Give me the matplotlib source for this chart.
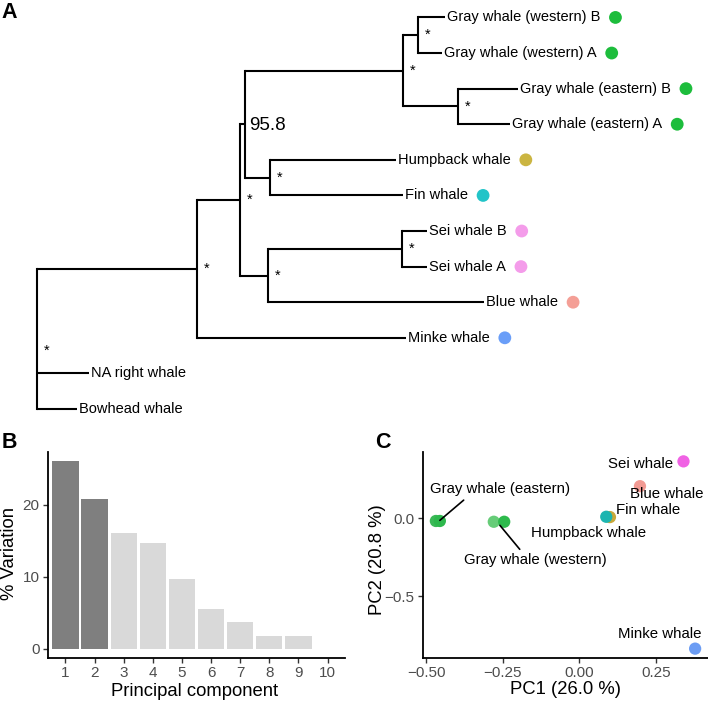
import matplotlib
matplotlib.use("Agg")
import matplotlib.pyplot as plt
import numpy as np

plt.rcParams['font.family'] = ['Liberation Sans', 'DejaVu Sans']

# ---------------- Data ----------------
# Tree (panel A): node, parent, branch length
node_names = ["root", "Bowhead whale", "NA right whale", "N1", "Minke whale", "N2",
              "SB", "Blue whale", "Sei", "Sei whale A", "Sei whale B",
              "N95", "HF", "Fin whale", "Humpback whale", "Gray", "East",
              "Gray whale (eastern) A", "Gray whale (eastern) B", "West",
              "Gray whale (western) A", "Gray whale (western) B"]
node_parent = [None, "root", "root", "root", "N1", "N1",
               "N2", "SB", "SB", "Sei", "Sei",
               "N2", "N95", "HF", "HF", "N95", "Gray",
               "East", "East", "Gray",
               "West", "West"]
branch_len = [0.0, 0.40, 0.52, 1.60, 2.09, 0.43,
              0.28, 2.16, 1.34, 0.25, 0.25,
              0.05, 0.25, 1.33, 1.26, 1.58, 0.55,
              0.52, 0.60, 0.15,
              0.24, 0.27]
# tip order from bottom to top
tip_order = ["Bowhead whale", "NA right whale", "Minke whale", "Blue whale",
             "Sei whale A", "Sei whale B", "Fin whale", "Humpback whale",
             "Gray whale (eastern) A", "Gray whale (eastern) B",
             "Gray whale (western) A", "Gray whale (western) B"]
node_support = {"root": "*", "N1": "*", "N2": "*", "SB": "*", "Sei": "*",
                "HF": "*", "Gray": "*", "East": "*", "West": "*", "N95": "95.8"}
tip_colors = {"Gray whale (western) B": "#1DBD3C", "Gray whale (western) A": "#1DBD3C",
              "Gray whale (eastern) B": "#1DBD3C", "Gray whale (eastern) A": "#1DBD3C",
              "Humpback whale": "#CBB541", "Fin whale": "#22C4C8",
              "Sei whale B": "#F49CEA", "Sei whale A": "#F49CEA",
              "Blue whale": "#F49F96", "Minke whale": "#6A9EF8"}

# Panel B: scree
pc_index = list(range(1, 11))
pc_variation = [26.0, 20.8, 16.1, 14.7, 9.6, 5.5, 3.7, 1.8, 1.8, 0.0]

# Panel C: PCA
pca_names = ["Gray whale (eastern) A", "Gray whale (eastern) B",
             "Gray whale (western) A", "Gray whale (western) B",
             "Humpback whale", "Fin whale", "Blue whale", "Sei whale", "Minke whale"]
pca_pc1 = [-0.468, -0.455, -0.279, -0.245, 0.100, 0.088, 0.198, 0.340, 0.378]
pca_pc2 = [-0.017, -0.017, -0.022, -0.022, 0.008, 0.010, 0.206, 0.365, -0.835]
pca_colors = ["#3BB957", "#2DB84C", "#66CC78", "#2DBA4C", "#C9A838", "#1DB5B0",
              "#F29A93", "#F062E4", "#6C9DF4"]
pca_labels = ["Gray whale (eastern)", "Gray whale (western)", "Humpback whale",
              "Fin whale", "Blue whale", "Sei whale", "Minke whale"]
label_pos = [(-0.258, 0.185), (-0.142, -0.268), (0.031, -0.092),
             (0.223, 0.051), (0.286, 0.159), (0.200, 0.348), (0.264, -0.740)]
# segment end (near the point) and start position on the label box (fractions)
label_anchor = [(-0.455, -0.013), (-0.259, -0.045), None, None, None, None, None]
label_relpos = [(0.27, 0.0), (0.41, 1.0), None, None, None, None, None]

# ---------------- Figure ----------------
W, H = 708, 704
fig = plt.figure(figsize=(W / 100, H / 100), dpi=100)

def px_axes(x0, y0, x1, y1):
    return fig.add_axes([x0 / W, 1 - y1 / H, (x1 - x0) / W, (y1 - y0) / H])

# ---------- Panel A: tree ----------
axA = px_axes(0, 0, 708, 430)
axA.set_xlim(-0.37, 6.71)
axA.set_ylim(0.41, 12.49)
axA.axis('off')

parent_of = dict(zip(node_names, node_parent))
bl_of = dict(zip(node_names, branch_len))
children = {n: [] for n in node_names}
for n, p in zip(node_names, node_parent):
    if p is not None:
        children[p].append(n)

xpos = {}
def set_x(n, base):
    xpos[n] = base + bl_of[n]
    for c in children[n]:
        set_x(c, xpos[n])
set_x("root", 0.0)

ypos = {t: i + 1 for i, t in enumerate(tip_order)}
def set_y(n):
    if n in ypos:
        return ypos[n]
    ys = [set_y(c) for c in children[n]]
    ypos[n] = float(np.mean(ys))
    return ypos[n]
set_y("root")

lw = 1.5
for n in node_names:
    p = parent_of[n]
    if p is not None:
        axA.plot([xpos[p], xpos[n]], [ypos[n], ypos[n]], color='black', lw=lw,
                 solid_capstyle='butt')
    if children[n]:
        cy = [ypos[c] for c in children[n]]
        axA.plot([xpos[n], xpos[n]], [min(cy), max(cy)], color='black', lw=lw,
                 solid_capstyle='projecting')

for n, lab in node_support.items():
    if lab == "*":
        axA.annotate(lab, (xpos[n], ypos[n]), xytext=(5, 0), textcoords='offset points',
                     fontsize=10.5, va='center', ha='left')
    else:
        axA.annotate(lab, (xpos[n], ypos[n]), xytext=(3.2, -1), textcoords='offset points',
                     fontsize=13.5, va='center', ha='left')

tip_texts = []
for t in tip_order:
    txt = axA.annotate(t, (xpos[t], ypos[t]), xytext=(1.5, 0), textcoords='offset points',
                       fontsize=10.5, va='center', ha='left')
    tip_texts.append((t, txt))

fig.canvas.draw()
renderer = fig.canvas.get_renderer()
inv = axA.transData.inverted()
for t, txt in tip_texts:
    if t in tip_colors:
        bb = txt.get_window_extent(renderer)
        xd, _ = inv.transform((bb.x1 + 15, bb.y0))
        axA.scatter([xd], [ypos[t]], s=85, color=tip_colors[t], edgecolors='none', zorder=3)

# panel letters
fig.text(1 / W, 1 - 13 / H, "A", fontsize=15.5, fontweight='bold', va='center', ha='left')
fig.text(2 / W, 1 - 443 / H, "B", fontsize=15.5, fontweight='bold', va='center', ha='left')
fig.text(375 / W, 1 - 443 / H, "C", fontsize=15.5, fontweight='bold', va='center', ha='left')

def classic(ax):
    for s in ['top', 'right']:
        ax.spines[s].set_visible(False)
    for s in ['left', 'bottom']:
        ax.spines[s].set_linewidth(1.3)
        ax.spines[s].set_color('black')
    ax.tick_params(axis='both', colors='#333333', labelcolor='#4D4D4D',
                   labelsize=11, length=3.5, width=1.0, pad=2.5)

# ---------- Panel B: scree ----------
axB = px_axes(48, 452, 345, 658)
bar_colors = ['#7F7F7F' if i <= 2 else '#D9D9D9' for i in pc_index]
axB.bar(pc_index, pc_variation, width=0.9, color=bar_colors, edgecolor='none')
axB.set_xlim(0.4, 10.6)
axB.set_ylim(-1.3, 27.3)
axB.set_xticks(pc_index)
axB.set_yticks([0, 10, 20])
classic(axB)
axB.set_xlabel("Principal component", fontsize=13.3, va='center')
axB.set_ylabel("% Variation", fontsize=13.3, va='center')
axB.xaxis.set_label_coords((195 - 48) / 297, (658 - 692) / 206)
axB.yaxis.set_label_coords((10 - 48) / 297, (658 - 554) / 206)

# ---------- Panel C: PCA ----------
axC = px_axes(423, 452, 708, 658)
axC.scatter(pca_pc1, pca_pc2, s=78, c=pca_colors, edgecolors='none', zorder=3)
axC.set_xlim(-0.510, 0.420)
axC.set_ylim(-0.895, 0.425)
axC.set_xticks([-0.5, -0.25, 0.0, 0.25])
axC.set_xticklabels(["\u22120.50", "\u22120.25", "0.00", "0.25"])
axC.set_yticks([-0.5, 0.0])
axC.set_yticklabels(["\u22120.5", "0.0"])
classic(axC)
axC.set_xlabel("PC1 (26.0 %)", fontsize=13.3, va='center')
axC.set_ylabel("PC2 (20.8 %)", fontsize=13.3, va='center')
axC.xaxis.set_label_coords((565.5 - 423) / 285, (658 - 689) / 206)
axC.yaxis.set_label_coords((377 - 423) / 285, (658 - 560) / 206)
for lab, pos, anc, rp in zip(pca_labels, label_pos, label_anchor, label_relpos):
    if anc is not None:
        axC.annotate(lab, xy=anc, xytext=pos, fontsize=10.8, ha='center', va='center',
                     arrowprops=dict(arrowstyle='-', color='black', lw=1.2, relpos=rp,
                                     shrinkA=1, shrinkB=0), zorder=4)
    else:
        axC.text(pos[0], pos[1], lab, fontsize=10.8, ha='center', va='center', zorder=4)

fig.savefig("out.png", dpi=100)
